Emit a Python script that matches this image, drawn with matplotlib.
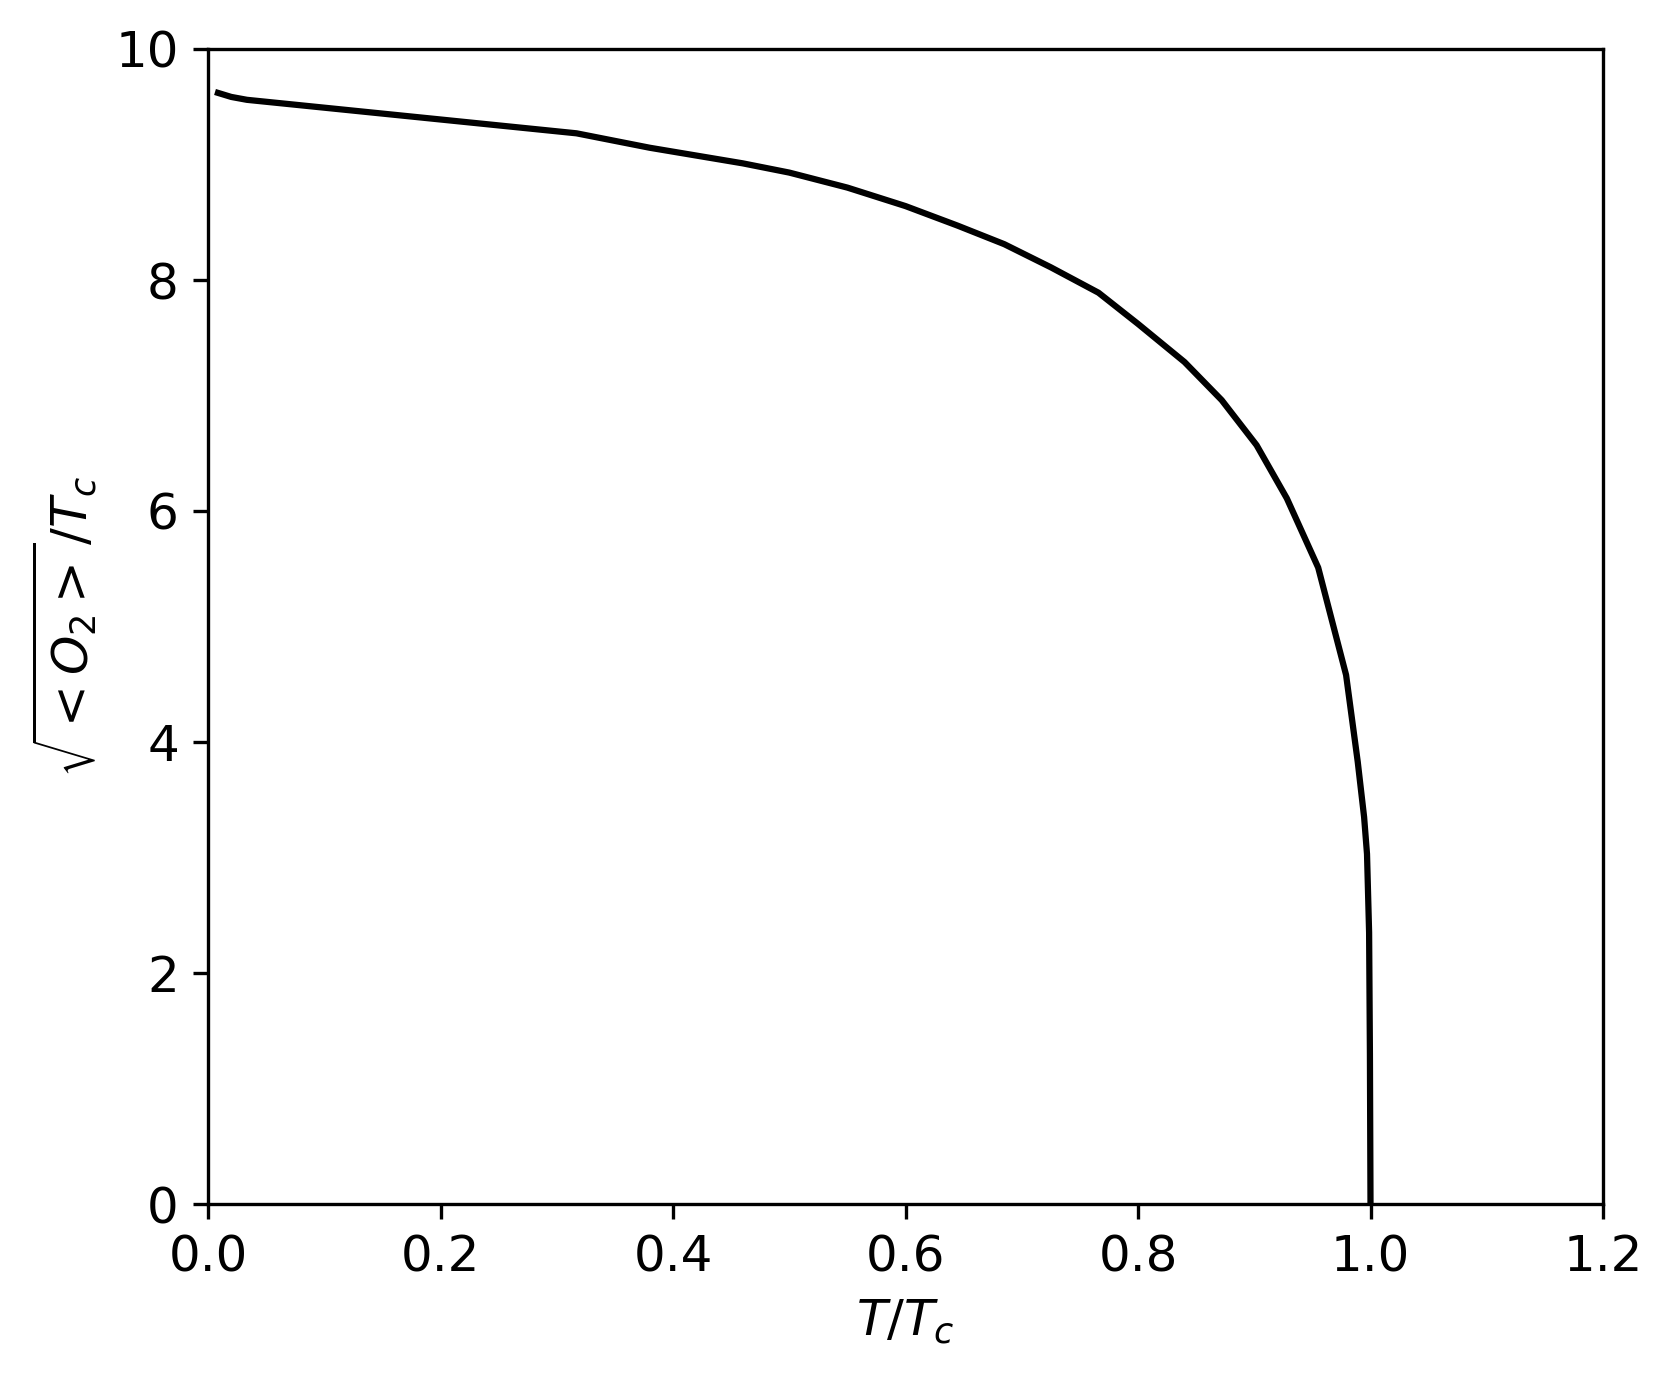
import matplotlib
matplotlib.use("Agg")
import matplotlib.pyplot as plt

T_over_Tc = [0.0086, 0.02, 0.0335, 0.317, 0.38, 0.46, 0.50, 0.55, 0.60,
             0.645, 0.685, 0.725, 0.766, 0.80, 0.84, 0.872, 0.902, 0.928, 0.955,
             0.979, 0.989, 0.9945, 0.997, 0.9988, 0.9995, 1.0]
condensate = [9.62, 9.585, 9.56, 9.27, 9.145, 9.01, 8.93, 8.80, 8.64,
              8.47, 8.31, 8.11, 7.89, 7.62, 7.29, 6.96, 6.57, 6.11, 5.51,
              4.58, 3.83, 3.35, 3.03, 2.35, 1.30, 0.0]

xticks = [0.0, 0.2, 0.4, 0.6, 0.8, 1.0, 1.2]
yticks = [0, 2, 4, 6, 8, 10]

plt.rcParams['font.size'] = 12
fig = plt.figure(figsize=(1672/300, 1376/300), dpi=300)
ax = fig.add_axes([208/1672, 1 - 1204/1376, (1603-208)/1672, (1204-49)/1376])
ax.plot(T_over_Tc, condensate, color='black', linewidth=1.5)
ax.set_xlim(0, 1.2)
ax.set_ylim(0, 10)
ax.set_xticks(xticks)
ax.set_yticks(yticks)
ax.set_xlabel(r'$T/T_c$')
ax.set_ylabel(r'$\sqrt{<O_2>}/T_c$')
fig.savefig('out.png', dpi=300)
